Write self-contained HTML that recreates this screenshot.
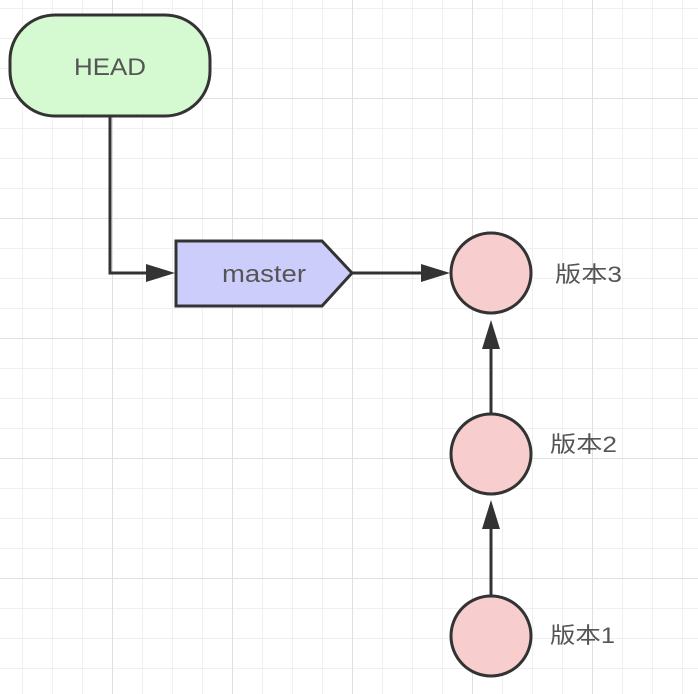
<!DOCTYPE html>
<html><head><meta charset="utf-8"><style>
html,body{margin:0;padding:0;background:#fff;}
</style></head><body>
<svg width="698" height="694" xmlns="http://www.w3.org/2000/svg" style="display:block">
<defs>
<pattern id="g" x="22" y="8" width="30" height="30" patternUnits="userSpaceOnUse">
<path d="M0 0H30M0 0V30" stroke="#ebebeb" stroke-width="1.5" fill="none"/>
</pattern>
<pattern id="G" x="112" y="98" width="120" height="120" patternUnits="userSpaceOnUse">
<path d="M0 0H120M0 0V120" stroke="#e0e0e0" stroke-width="2" fill="none"/>
</pattern>
</defs>
<rect width="698" height="694" fill="url(#g)"/>
<rect width="698" height="694" fill="url(#G)"/>
<g stroke="#333" stroke-width="3" fill="none">
<path d="M110 116V273H150"/>
<path d="M352 273H425"/>
<path d="M491 413V345"/>
<path d="M491 595V525"/>
</g>
<g fill="#333">
<polygon points="175,273 146,264 146,282"/>
<polygon points="450,273 421,264 421,282"/>
<polygon points="491,320 482,349 500,349"/>
<polygon points="491,500 482,529 500,529"/>
</g>
<rect x="10" y="15" width="200" height="101" rx="45" fill="#d5fad1" stroke="#333" stroke-width="3"/>
<polygon points="176,241 322,241 352,273 322,306 176,306" fill="#cdcdfb" stroke="#333" stroke-width="3"/>
<g fill="#f7cecd" stroke="#333" stroke-width="3">
<circle cx="491" cy="273" r="40"/>
<circle cx="491" cy="454" r="40"/>
<circle cx="491" cy="636" r="40"/>
</g>
<g font-family="Liberation Sans, 'Noto Sans CJK SC', sans-serif" fill="#555">
<text x="110" y="75" text-anchor="middle" font-size="24" textLength="72" lengthAdjust="spacingAndGlyphs">HEAD</text>
<text x="264" y="282" text-anchor="middle" font-size="24" textLength="84" lengthAdjust="spacingAndGlyphs">master</text>
<text x="555" y="282" font-size="22" textLength="67" lengthAdjust="spacingAndGlyphs">版本3</text>
<text x="550" y="452" font-size="22" textLength="67" lengthAdjust="spacingAndGlyphs">版本2</text>
<text x="550" y="643" font-size="22" textLength="65" lengthAdjust="spacingAndGlyphs">版本1</text>
</g>
</svg>
</body></html>
